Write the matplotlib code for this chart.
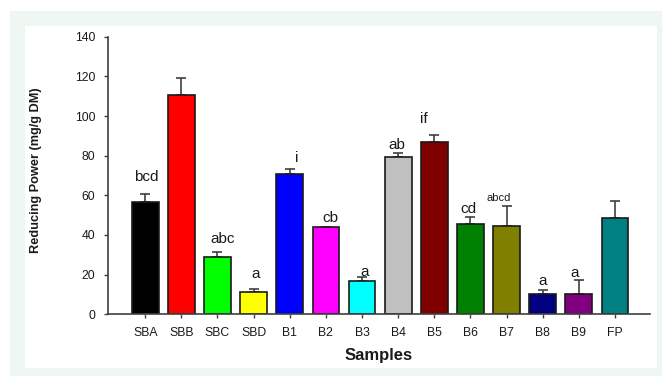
import matplotlib
matplotlib.use("Agg")
import matplotlib.pyplot as plt
from matplotlib.patches import Rectangle

samples = ["SBA", "SBB", "SBC", "SBD", "B1", "B2", "B3", "B4", "B5", "B6", "B7", "B8", "B9", "FP"]
values = [56.8, 110.7, 28.9, 11.1, 70.6, 43.9, 16.8, 79.5, 87.0, 45.7, 44.7, 10.1, 10.1, 48.7]
errors = [3.9, 8.6, 2.4, 1.5, 2.7, 0.3, 1.9, 1.7, 3.6, 3.4, 9.9, 2.3, 7.0, 8.3]
colors = ["#000000", "#ff0000", "#00ff00", "#ffff00", "#0000ff", "#ff00ff", "#00ffff",
          "#c0c0c0", "#800000", "#008000", "#808000", "#000080", "#800080", "#008080"]
letters = ["bcd", "", "abc", "a", "i", "cb", "a", "ab", "if", "cd", "abcd", "a", "a", ""]
letter_y = [67.4, None, 36.1, 18.2, 76.6, 46.4, 19.3, 83.5, 96.3, 51.1, 57.0, 14.6, 19.0, None]
letter_dx = [0.02, 0, 0.15, 0.06, 0.19, 0.13, 0.08, -0.05, -0.3, -0.05, -0.23, 0.0, -0.11, 0]
yticks = [0, 20, 40, 60, 80, 100, 120, 140]

plt.rcParams['font.family'] = ['Liberation Sans', 'DejaVu Sans']

fig = plt.figure(figsize=(6.62, 3.76), dpi=100)
fig.patch.set_facecolor("white")
fig.patches.append(Rectangle((10/662, 0), 1, 1 - 11/376, transform=fig.transFigure,
                             facecolor="#eef6f1", edgecolor="none", zorder=-10))
fig.patches.append(Rectangle((25/662, 1 - 368/376), (657 - 25)/662, (368 - 26)/376,
                             transform=fig.transFigure, facecolor="white", edgecolor="none", zorder=-9))

ax = fig.add_axes([108/662, (376 - 314.3)/376, 542/662, 277.6/376])
ax.set_facecolor("none")
x = list(range(len(samples)))
ax.bar(x, values, width=0.74, color=colors, edgecolor="#1a1a1a", linewidth=1.2, zorder=2)
ax.errorbar(x, values, yerr=[[0]*len(errors), errors], fmt="none", ecolor="#404040",
            elinewidth=1.2, capsize=3.6, capthick=1.2, zorder=1)

for i, (lab, ly, dx) in enumerate(zip(letters, letter_y, letter_dx)):
    if lab:
        fs = 8 if lab == "abcd" else 11
        ax.text(i + dx, ly, lab, ha="center", va="baseline", fontsize=fs, color="#1a1a1a")

ax.set_xlim(-1.03, 13.97)
ax.set_ylim(0, 140)
ax.set_xticks(x)
ax.set_xticklabels(samples, fontsize=8.8, color="#1a1a1a")
ax.set_yticks(yticks)
ax.set_yticklabels([str(t) for t in yticks], fontsize=8.8, color="#1a1a1a")
ax.tick_params(axis="both", direction="out", length=3, width=1, color="#404040", pad=6)
for s in ["top", "right"]:
    ax.spines[s].set_visible(False)
for s in ["left", "bottom"]:
    ax.spines[s].set_color("#404040")
    ax.spines[s].set_linewidth(1.2)

ax.set_xlabel("Samples", fontsize=12, fontweight="bold", color="#1a1a1a", va="top")
ax.xaxis.set_label_coords(0.5, -0.122)
ax.set_ylabel("Reducing Power (mg/g DM)", fontsize=9.2, fontweight="bold", color="#1a1a1a",
              family=['Liberation Sans Narrow', 'Liberation Sans', 'DejaVu Sans'])
ax.yaxis.set_label_coords(-0.122, 0.52)

fig.savefig("out.png", dpi=100)
